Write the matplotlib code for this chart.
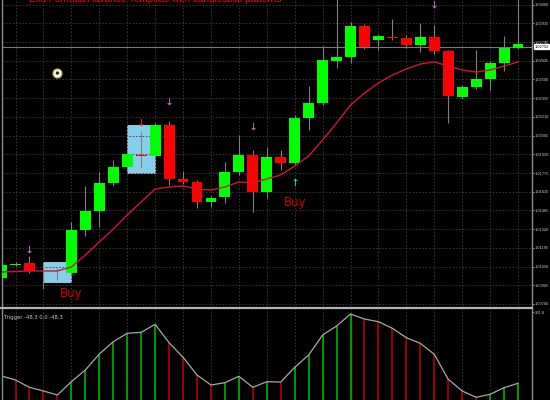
import matplotlib
matplotlib.use("Agg")
import matplotlib.pyplot as plt
from matplotlib.patches import Rectangle
from matplotlib.lines import Line2D
import numpy as np

# ---------------- data ----------------
opens = [1.00961, 1.01066, 1.01078, 1.01055, 1.01008, 1.01000, 1.01334, 1.01481, 1.01698, 1.01822,
         1.01911, 1.01907, 1.02147, 1.01729, 1.01706, 1.01551, 1.01589, 1.01783, 1.01915, 1.01628,
         1.01899, 1.01853, 1.02202, 1.02318, 1.02643, 1.02674, 1.02915, 1.02806, 1.02832, 1.02822,
         1.02767, 1.02829, 1.02721, 1.02364, 1.02442, 1.02504, 1.02628, 1.02744]
closes = [1.01062, 1.01070, 1.01016, 1.01055, 1.01008, 1.01334, 1.01481, 1.01698, 1.01822, 1.01922,
          1.01907, 1.02147, 1.01729, 1.01706, 1.01551, 1.01582, 1.01783, 1.01915, 1.01628, 1.01899,
          1.01853, 1.02202, 1.02318, 1.02651, 1.02674, 1.02915, 1.02752, 1.02837, 1.02819, 1.02767,
          1.02829, 1.02721, 1.02372, 1.02442, 1.02504, 1.02628, 1.02744, 1.02775]
highs = [1.01078, 1.01085, 1.01132, 1.01070, 1.01039, 1.01396, 1.01675, 1.01783, 1.01876, 1.01954,
         1.02101, 1.02163, 1.02178, 1.01791, 1.01721, 1.01597, 1.01861, 1.02070, 1.01954, 1.01977,
         1.01954, 1.02225, 1.02450, 1.02760, 1.03155, 1.02946, 1.02930, 1.02853, 1.02969, 1.02845,
         1.02938, 1.02922, 1.02729, 1.02457, 1.02729, 1.02643, 1.02837, 1.03155]
lows = [1.00946, 1.01055, 1.01000, 1.00876, 1.00946, 1.00985, 1.01287, 1.01357, 1.01675, 1.01799,
        1.01814, 1.01892, 1.01682, 1.01690, 1.01504, 1.01512, 1.01543, 1.01760, 1.01473, 1.01582,
        1.01799, 1.01837, 1.02109, 1.02302, 1.02589, 1.02628, 1.02736, 1.02729, 1.02806, 1.02744,
        1.02713, 1.02698, 1.02163, 1.02349, 1.02426, 1.02419, 1.02566, 1.02736]
ma_values = [1.01008, 1.01012, 1.01016, 1.01016, 1.01016, 1.01047, 1.01140, 1.01240, 1.01341, 1.01450,
             1.01551, 1.01651, 1.01667, 1.01675, 1.01651, 1.01643, 1.01667, 1.01706, 1.01698, 1.01729,
             1.01760, 1.01829, 1.01907, 1.02031, 1.02163, 1.02302, 1.02395, 1.02473, 1.02535, 1.02581,
             1.02620, 1.02636, 1.02604, 1.02573, 1.02558, 1.02573, 1.02604, 1.02636]
trigger = [79.6, 66.3, 42.1, 29.8, 16.6, 60.7, 99.5, 152.5, 193.3, 221.2,
           224.5, 251.0, 190.0, 141.6, 82.9, 49.7, 57.4, 78.6, 42.1, 60.7,
           59.5, 108.4, 149.2, 215.5, 245.4, 285.2, 268.6, 259.6, 237.8, 206.6,
           188.0, 151.5, 68.6, 29.8, 9.0, 18.9, 40.8, 55.4]
trigger_dir = ['r', 'r', 'r', 'r', 'r', 'g', 'g', 'g', 'g', 'g',
               'g', 'g', 'r', 'r', 'r', 'r', 'g', 'g', 'r', 'g',
               'r', 'g', 'g', 'g', 'g', 'g', 'r', 'r', 'r', 'r',
               'r', 'r', 'r', 'r', 'r', 'g', 'g', 'g']
pattern_boxes = [(3, 5, 1.00931, 1.01086), (9, 11, 1.01775, 1.02147)]
sell_arrows_idx = [2, 12, 18, 31]
sell_arrows_price = [1.01186, 1.02333, 1.02140, 1.03085]
red_arrow_idx = [10]
red_arrow_price = [1.02171]
buy_arrow_idx = [21]
buy_arrow_price = [1.01706]
buy_label_idx = [5, 21]
buy_label_price = [1.00838, 1.01543]
smiley_idx = [4]
smiley_price = [1.02550]
bid_price = 1.02752
price_ticks = [1.00760, 1.00905, 1.01050, 1.01195, 1.01340, 1.01485, 1.01630, 1.01775, 1.01920,
               1.02065, 1.02210, 1.02355, 1.02500, 1.02645, 1.02790, 1.02935, 1.03080]
price_tick_labels = ["1.00760", "1.00905", "1.01050", "1.01195", "1.01340", "1.01485", "1.01630",
                     "1.01775", "1.01920", "1.02065", "1.02210", "1.02355", "1.02500", "1.02645",
                     "1.02790", "1.02935", "1.03080"]
title = "Exit Formula Advance Template with candlestick patterns"
trigger_caption = "Trigger -48.3 0.0 -48.3"
trigger_top_label = "291.8"

# ---------------- figure ----------------
W, H = 550, 400
fig = plt.figure(figsize=(5.5, 4.0), dpi=100, facecolor="black")

def fx(px):
    return px / W

def fy(py):
    return 1 - py / H

ax = fig.add_axes([fx(2), fy(306), fx(530), 306 / H], facecolor="black")
axi = fig.add_axes([fx(2), 0, fx(530), 91 / H], facecolor="black")

n = len(opens)
x = np.arange(n)
xlim = (0.03, 38.0)

GRID = "#3c3c3c"
WICK = "#808080"
UP = "#00ff00"
DN = "#ff0000"
TICKFONT = ["Liberation Sans", "DejaVu Sans"]

# pattern boxes
for (i0, i1, lo, hi) in pattern_boxes:
    ax.add_patch(Rectangle((i0, lo), i1 - i0, hi - lo, facecolor="#87ceeb",
                           edgecolor="#9fd8ef", lw=0.6, zorder=1))

# grid
for t in price_ticks:
    ax.axhline(t, color=GRID, lw=0.6, ls=(0, (2, 2)), zorder=1.5)
for gx in range(1, n, 2):
    ax.axvline(gx, color=GRID, lw=0.6, ls=(0, (2, 2)), zorder=1.5)
    axi.axvline(gx, color=GRID, lw=0.6, ls=(0, (2, 2)), zorder=0.5)

# candles
o = np.array(opens); c = np.array(closes)
ax.vlines(x, lows, highs, color=WICK, lw=0.8, zorder=2)
cols = []
for oo, cc in zip(o, c):
    if cc > oo:
        cols.append(UP)
    elif cc < oo:
        cols.append(DN)
    else:
        cols.append("#606060")
bottom = np.minimum(o, c)
height = np.maximum(np.abs(c - o), 0.000022)
ax.bar(x, height, bottom=bottom, width=0.78, color=cols, edgecolor="none", zorder=3)

# moving average
ax.plot(x, ma_values, color="#d2143a", lw=1.0, zorder=4)

# bid line
ax.axhline(bid_price, color="#7a7a7a", lw=0.8, zorder=2.5)

# signal markers
ax.scatter(sell_arrows_idx, sell_arrows_price, marker=r"$\downarrow$", s=28,
           color="#e070e0", zorder=5, linewidths=0)
ax.scatter(red_arrow_idx, red_arrow_price, marker=r"$\downarrow$", s=28,
           color="#ff2020", zorder=5, linewidths=0)
ax.scatter(buy_arrow_idx, buy_arrow_price, marker=r"$\uparrow$", s=28,
           color="#20e0e0", zorder=5, linewidths=0)
ax.scatter(smiley_idx, smiley_price, s=40, facecolor="white", edgecolor="#c8b070",
           linewidths=1.0, zorder=5)
ax.scatter(smiley_idx, smiley_price, s=6, facecolor="#302010", edgecolor="none", zorder=6)

for bi, bp in zip(buy_label_idx, buy_label_price):
    ax.text(bi, bp, "Buy", color="#d00000", fontsize=8.5, ha="center", va="center",
            family=["Liberation Sans Narrow", "DejaVu Sans"], zorder=6)

ax.set_xlim(*xlim)
ax.set_ylim(1.007445, 1.03116)
ax.yaxis.tick_right()
ax.set_yticks(price_ticks)
ax.set_yticklabels(price_tick_labels, family=TICKFONT)
ax.tick_params(axis="y", labelsize=2.9, colors="#c8c8c8", length=1.5, pad=0.6, width=0.5)
ax.set_xticks([])
for s in ["top", "bottom"]:
    ax.spines[s].set_visible(False)
for s in ["left", "right"]:
    ax.spines[s].set_color("#8c8c8c")
    ax.spines[s].set_linewidth(1.0)

ax.annotate(f"{bid_price:.5f}", xy=(1.0, bid_price), xycoords=("axes fraction", "data"),
            xytext=(1.6, 0), textcoords="offset points", fontsize=2.9, color="black",
            va="center", ha="left", family=TICKFONT,
            bbox=dict(boxstyle="square,pad=0.12", fc="white", ec="white"), zorder=7,
            annotation_clip=False)

# title (cut at top)
fig.text(fx(155), fy(2.5), title, color="#ff0000", fontsize=7.2, ha="center", va="baseline",
         family=["Liberation Sans Narrow", "Liberation Sans", "DejaVu Sans"])

# indicator panel
bar_cols = ["#00c000" if d == "g" else "#c00000" for d in trigger_dir]
axi.vlines(x, 0, trigger, colors=bar_cols, lw=1.1, zorder=1)
axi.plot(x, trigger, color="#a8a8a8", lw=0.9, zorder=2)
axi.set_xlim(*xlim)
axi.set_ylim(0, 301.8)
axi.set_xticks([])
axi.yaxis.tick_right()
axi.set_yticks([291.8])
axi.set_yticklabels([trigger_top_label], family=TICKFONT)
axi.tick_params(axis="y", labelsize=2.9, colors="#c8c8c8", length=1.5, pad=0.6, width=0.5)
for s in ["top", "bottom"]:
    axi.spines[s].set_visible(False)
for s in ["left", "right"]:
    axi.spines[s].set_color("#8c8c8c")
    axi.spines[s].set_linewidth(1.0)
axi.text(0.004, 0.93, trigger_caption, transform=axi.transAxes, fontsize=3.8,
         color="#c8c8c8", ha="left", va="top")

# separator between panels
fig.add_artist(Line2D([0, fx(532)], [fy(307.5), fy(307.5)], color="#b4b4b4", lw=1.6))

fig.savefig("out.png", dpi=100, facecolor="black")
